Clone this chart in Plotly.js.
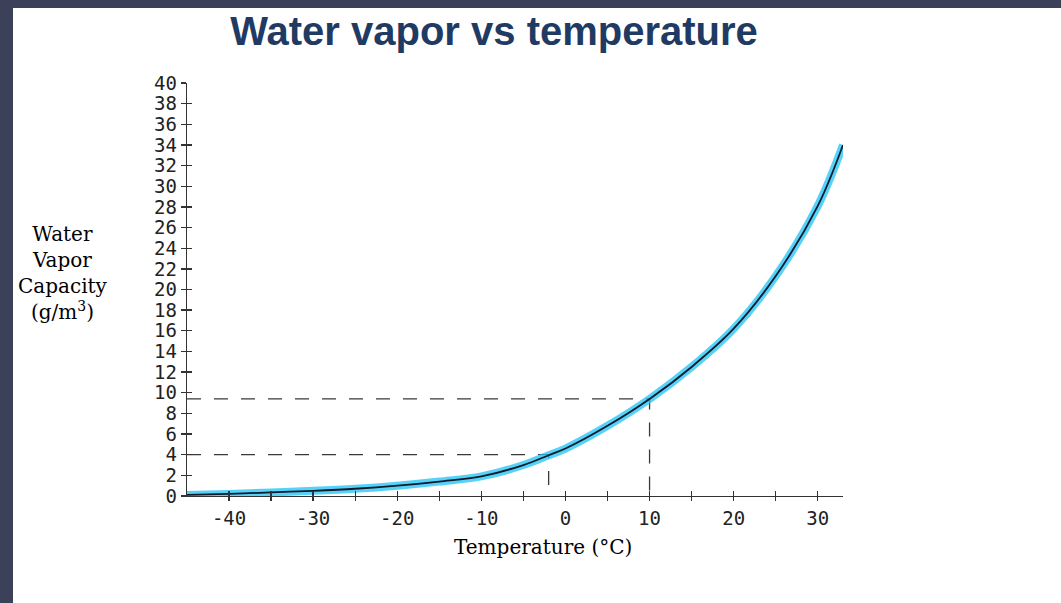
<!DOCTYPE html>
<html>
<head>
<meta charset="utf-8">
<script src="https://cdn.plot.ly/plotly-3.0.1.min.js"></script>
<style>
  html, body { margin: 0; padding: 0; background: #3b4159; width: 1061px; height: 603px; overflow: hidden; }
  #chart { position: absolute; left: 13px; top: 8px; width: 1048px; height: 595px; background: #ffffff; }
</style>
</head>
<body>
<div id="chart"></div>
<script>
// Curve
const temps    = [-45, -40, -35, -30, -25, -20, -15, -10, -5, -2, 0, 5, 10, 15, 20, 25, 30, 33];
const capacity = [0.1, 0.2, 0.35, 0.5, 0.7, 1.0, 1.4, 1.9, 3.0, 3.95, 4.6, 6.8, 9.4, 12.5, 16.2, 21.3, 28.1, 34.0];

// Dashed reading guides
const guideTemps = [-2, 10];
const guideVals  = [4.0, 9.4];

// Tick labels
const xTickVals  = [-40, -30, -20, -10, 0, 10, 20, 30];
const xTickText  = ["-40", "-30", "-20", "-10", "0", "10", "20", "30"];
const xMinorVals = [-35, -25, -15, -5, 5, 15, 25];
const yTickVals  = [0, 2, 4, 6, 8, 10, 12, 14, 16, 18, 20, 22, 24, 26, 28, 30, 32, 34, 36, 38, 40];
const yTickText  = yTickVals.map(String);

const xRange = [-45, 33];
const yRange = [0, 40];

const traces = [];
// guides
guideTemps.forEach((t, i) => {
  traces.push({
    x: [xRange[0], t, t], y: [guideVals[i], guideVals[i], 0],
    mode: 'lines', hoverinfo: 'skip', showlegend: false,
    line: { color: '#3a3a3a', width: 1.3, dash: '14px,13px' }
  });
});
// cyan highlighter glow
traces.push({
  x: temps, y: capacity, mode: 'lines', showlegend: false, hoverinfo: 'skip',
  line: { color: 'rgba(30,195,245,0.75)', width: 8, shape: 'spline', smoothing: 1 }
});
// black ink line
traces.push({
  x: temps, y: capacity, mode: 'lines', showlegend: false,
  line: { color: '#0d1a2b', width: 1.8, shape: 'spline', smoothing: 1 }
});
// dummy trace for overlay axes (crossing ticks)
traces.push({ x: [xRange[0]], y: [yRange[0]], xaxis: 'x2', yaxis: 'y2', mode: 'markers',
  marker: { opacity: 0 }, showlegend: false, hoverinfo: 'skip' });

const tickFont = { family: '"DejaVu Sans Mono", "Liberation Mono", monospace', size: 19, color: '#222222' };
const serif = '"DejaVu Serif", "Liberation Serif", serif';

const layout = {
  width: 1048, height: 595,
  paper_bgcolor: '#ffffff', plot_bgcolor: 'rgba(0,0,0,0)',
  margin: { l: 174, r: 218, t: 75, b: 107 },
  showlegend: false,
  title: {
    text: '<b>Water vapor vs temperature</b>',
    font: { family: '"Liberation Sans", Arial, sans-serif', size: 40, color: '#1f3b63' },
    x: 0.459, xanchor: 'center', y: 0.962, yanchor: 'middle'
  },
  xaxis: {
    range: xRange, showgrid: false, zeroline: false,
    showline: true, linecolor: '#333333', linewidth: 1.3,
    ticks: 'outside', ticklen: 4, tickwidth: 1.3, tickcolor: '#333333',
    tickvals: xTickVals, ticktext: xTickText, tickfont: tickFont,
    ticklabelstandoff: 1,
    minor: { tickvals: xMinorVals, ticks: 'outside', ticklen: 4, tickwidth: 1.3, tickcolor: '#333333' },
    anchor: 'y', fixedrange: true
  },
  xaxis2: {
    range: xRange, overlaying: 'x', anchor: 'y', side: 'bottom',
    showgrid: false, zeroline: false, showline: false, showticklabels: false,
    ticks: 'inside', ticklen: 5, tickwidth: 1.3, tickcolor: '#333333',
    tickvals: xTickVals,
    minor: { tickvals: xMinorVals, ticks: 'inside', ticklen: 5, tickwidth: 1.3, tickcolor: '#333333' },
    fixedrange: true
  },
  yaxis: {
    range: yRange, showgrid: false, zeroline: false,
    showline: true, linecolor: '#333333', linewidth: 1.3,
    ticks: 'outside', ticklen: 5, tickwidth: 1.3, tickcolor: '#333333',
    tickvals: yTickVals, ticktext: yTickText, tickfont: tickFont,
    anchor: 'x', fixedrange: true
  },
  yaxis2: {
    range: yRange, overlaying: 'y', anchor: 'x', side: 'left',
    showgrid: false, zeroline: false, showline: false, showticklabels: false,
    ticks: 'inside', ticklen: 5, tickwidth: 1.3, tickcolor: '#333333',
    tickvals: yTickVals, fixedrange: true
  },
  annotations: [
    {
      xref: 'paper', yref: 'paper', x: -0.189, y: 0.541, xanchor: 'center', yanchor: 'middle',
      text: 'Water<br>Vapor<br>Capacity<br>(g/m<sup>3</sup>)', showarrow: false, align: 'center',
      font: { family: serif, size: 20, color: '#000000' }
    },
    {
      xref: 'paper', yref: 'paper', x: 0.543, y: -0.123, xanchor: 'center', yanchor: 'middle',
      text: 'Temperature (°C)', showarrow: false,
      font: { family: serif, size: 20, color: '#000000' }
    }
  ]
};

Plotly.newPlot('chart', traces, layout, { displayModeBar: false, staticPlot: true });
</script>
</body>
</html>
